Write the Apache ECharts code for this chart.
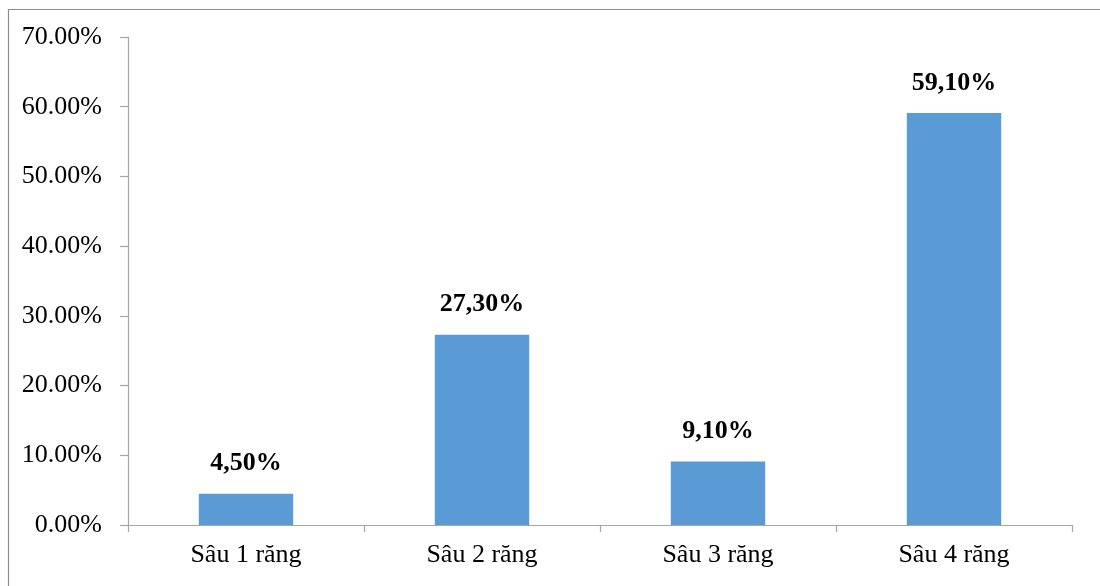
<!DOCTYPE html>
<html>
<head>
<meta charset="utf-8">
<script src="https://cdn.jsdelivr.net/npm/echarts@6/dist/echarts.min.js"></script>
<style>
  html, body { margin: 0; padding: 0; background: #fff; }
  #chart { width: 1100px; height: 586px; }
</style>
</head>
<body>
<div id="chart"></div>
<script>
// Share of patients by number of decayed teeth
const categories = ['Sâu 1 răng', 'Sâu 2 răng', 'Sâu 3 răng', 'Sâu 4 răng'];
const percentValues = [4.5, 27.3, 9.1, 59.1];
const axisMin = 0;
const axisMax = 70;
const axisStep = 10;

const serif = '"Liberation Serif", "Times New Roman", serif';
const axisGray = '#a6a6a6';

const chart = echarts.init(document.getElementById('chart'), null, { renderer: 'canvas' });

chart.setOption({
  animation: false,
  backgroundColor: '#ffffff',
  graphic: [{
    type: 'rect',
    left: 6,
    top: 7,
    shape: { width: 1110, height: 600 },
    style: { fill: 'none', stroke: '#8c8c8c', lineWidth: 1.2 },
    silent: true
  }],
  grid: { left: 128, right: 28, top: 37, bottom: 61, containLabel: false },
  xAxis: {
    type: 'category',
    data: categories,
    boundaryGap: true,
    axisLine: { show: true, lineStyle: { color: axisGray, width: 1.2 } },
    axisTick: { show: true, length: 7, inside: false, alignWithLabel: false, lineStyle: { color: axisGray, width: 1.2 } },
    axisLabel: { color: '#000', fontFamily: serif, fontSize: 26, margin: 17 },
    splitLine: { show: false }
  },
  yAxis: {
    type: 'value',
    min: axisMin,
    max: axisMax,
    interval: axisStep,
    axisLine: { show: true, lineStyle: { color: axisGray, width: 1.2 } },
    axisTick: { show: true, length: 8, inside: false, lineStyle: { color: axisGray, width: 1.2 } },
    axisLabel: {
      color: '#000', fontFamily: serif, fontSize: 26, margin: 26,
      formatter: v => v.toFixed(2) + '%'
    },
    splitLine: { show: false }
  },
  series: [{
    type: 'bar',
    data: percentValues,
    barWidth: '40%',
    itemStyle: { color: '#5b9bd5' },
    label: {
      show: true,
      position: 'top',
      distance: 17,
      color: '#000',
      fontFamily: serif,
      fontSize: 26,
      fontWeight: 'bold',
      formatter: p => p.value.toFixed(2).replace('.', ',') + '%'
    }
  }]
});
</script>
</body>
</html>
